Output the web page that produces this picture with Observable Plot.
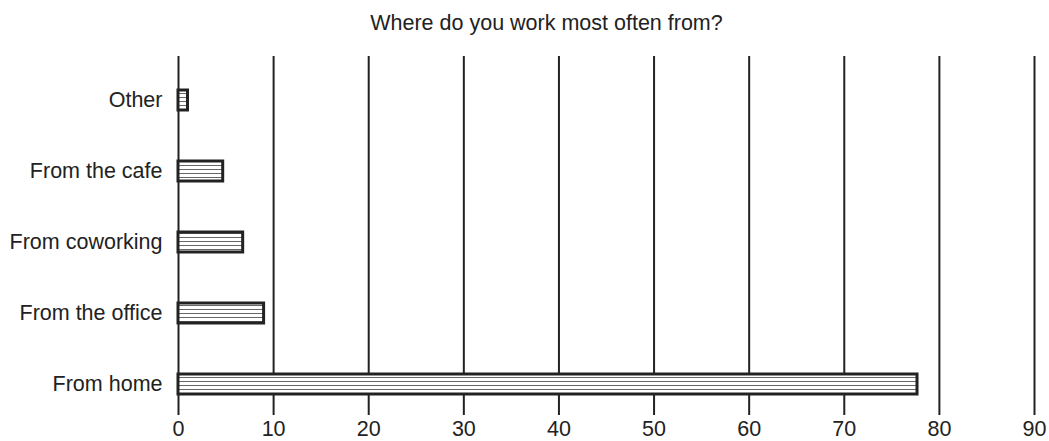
<!DOCTYPE html>
<html>
<head>
<meta charset="utf-8">
<script src="https://cdn.jsdelivr.net/npm/d3@7"></script>
<script src="https://cdn.jsdelivr.net/npm/@observablehq/plot@0.6"></script>
<style>
  html, body { margin: 0; padding: 0; background: #fff; }
  body { width: 1049px; height: 441px; overflow: hidden; font-family: "Liberation Sans", Arial, sans-serif; }
  #title { height: 48px; box-sizing: border-box; padding-left: 44px; padding-top: 11px; text-align: center; font-size: 21.5px; line-height: 24px; color: #222; }
  #chart svg { display: block; }
</style>
</head>
<body>
<div id="title">Where do you work most often from?</div>
<div id="chart"></div>
<script>
const categories = ["Other", "From the cafe", "From coworking", "From the office", "From home"];
const values = [1.0, 4.7, 6.8, 9.0, 77.7];
const xTicks = [0, 10, 20, 30, 40, 50, 60, 70, 80, 90];

const data = categories.map((c, i) => ({category: c, value: values[i]}));

const chart = Plot.plot({
  width: 1049,
  height: 393,
  marginTop: 8,
  marginBottom: 26,
  marginLeft: 178,
  marginRight: 15,
  style: {fontFamily: "Liberation Sans, Arial, sans-serif", fontSize: "21.5px", color: "#222", background: "#fff"},
  x: {domain: [0, 90], ticks: xTicks, tickSize: 0, tickPadding: 5, label: null},
  y: {domain: categories, range: [42, 350], paddingInner: 0.722, paddingOuter: 0, align: 0, tickSize: 0, tickPadding: 16, label: null},
  marks: [
    Plot.ruleX(xTicks, {stroke: "#222", strokeWidth: 2}),
    Plot.barX(data, {x: "value", y: "category", fill: "url(#hatch)", stroke: "#222", strokeWidth: 3}),
    Plot.axisX({ticks: xTicks, tickSize: 0, tickPadding: 5, fontSize: "21.5px"}),
    Plot.axisY({tickSize: 0, tickPadding: 16, fontSize: "21.5px"})
  ]
});

const ns = "http://www.w3.org/2000/svg";
const defs = document.createElementNS(ns, "defs");
const pat = document.createElementNS(ns, "pattern");
pat.setAttribute("id", "hatch");
pat.setAttribute("patternUnits", "userSpaceOnUse");
pat.setAttribute("width", "8");
pat.setAttribute("height", "4");
const bg = document.createElementNS(ns, "rect");
bg.setAttribute("width", "8");
bg.setAttribute("height", "4");
bg.setAttribute("fill", "#fff");
const ln = document.createElementNS(ns, "rect");
ln.setAttribute("y", "1");
ln.setAttribute("width", "8");
ln.setAttribute("height", "1");
ln.setAttribute("fill", "#666");
pat.appendChild(bg);
pat.appendChild(ln);
defs.appendChild(pat);
chart.insertBefore(defs, chart.firstChild);

document.getElementById("chart").appendChild(chart);
</script>
</body>
</html>
